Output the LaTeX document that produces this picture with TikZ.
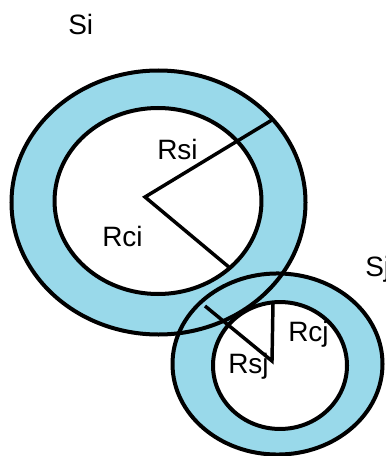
\documentclass[tikz,border=0pt]{standalone}
\usepackage{fontspec}
\setmainfont{Liberation Sans}
\begin{document}
\begin{tikzpicture}[x=0.75pt,y=-0.75pt,
  ring/.style={line width=3pt},
  rad/.style={line width=2.6pt},
  lbl/.style={anchor=base west,inner sep=0pt,font=\fontsize{21}{25}\selectfont}]
\definecolor{lightblue}{RGB}{153,217,234}
\useasboundingbox (0,0) rectangle (385,456);
\clip (0,0) rectangle (385,456);
% fills
\fill[lightblue] (158.5,202.5) ellipse [x radius=110.25pt, y radius=99pt];
\fill[lightblue] (277.5,364) ellipse [x radius=78.75pt, y radius=67.9pt];
\fill[white] (158,201) ellipse [x radius=77.6pt, y radius=69.75pt];
\fill[white] (280,365.5) ellipse [x radius=50.25pt, y radius=47.6pt];
% outlines
\draw[ring] (158.5,202.5) ellipse [x radius=110.25pt, y radius=99pt];
\draw[ring] (158,201) ellipse [x radius=77.6pt, y radius=69.75pt];
\draw[ring] (277.5,364) ellipse [x radius=78.75pt, y radius=67.9pt];
\draw[ring] (280,365.5) ellipse [x radius=50.25pt, y radius=47.6pt];
% radii
\coordinate (vi) at (145,197);
\coordinate (rsiend) at (272,120);
\coordinate (rciend) at (230,268);
\coordinate (vj) at (272,361);
\coordinate (rsjend) at (205,306);
\coordinate (rcjend) at (273,303);
\draw[rad,line join=miter] (rsiend) -- (vi) -- (rciend);
\draw[rad,line join=miter] (rsjend) -- (vj) -- (rcjend);
% labels
\node[lbl] (si) at (68,35) {Si};
\node[lbl] (sj) at (365,276) {Sj};
\node[lbl] (rsi) at (157,159) {Rsi};
\node[lbl] (rci) at (102,246) {Rci};
\node[lbl] (rcj) at (288,341) {Rcj};
\node[lbl] (rsj) at (228,373) {Rsj};
\end{tikzpicture}
\end{document}
